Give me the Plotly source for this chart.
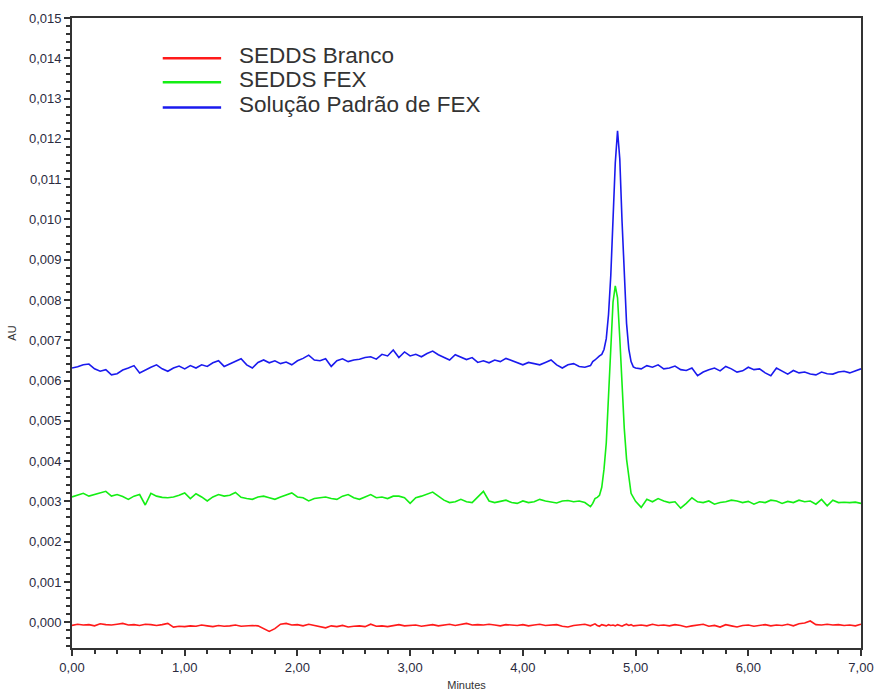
import numpy as np
import plotly.graph_objects as go

# Time grid (minutes): coarse baseline sampling, finer sampling across the peak
time_a = np.round(np.arange(0.00, 4.601, 0.05), 2)   # 93 points
time_b = np.round(np.arange(4.62, 5.001, 0.02), 2)   # 20 points
time_c = np.round(np.arange(5.05, 7.001, 0.05), 2)   # 40 points
minutes = np.concatenate([time_a, time_b, time_c])

# Absorbance values, in units of 0.001 AU
blanco_mau = [
    -0.08, -0.05, -0.07, -0.06, -0.09, -0.04, -0.06, -0.07, -0.05, -0.03,
    -0.07, -0.06, -0.08, -0.05, -0.06, -0.08, -0.06, -0.03, -0.12, -0.10,
    -0.11, -0.09, -0.10, -0.07, -0.09, -0.11, -0.08, -0.10, -0.09, -0.07,
    -0.10, -0.09, -0.08, -0.09, -0.15, -0.23, -0.16, -0.05, -0.03, -0.07,
    -0.06, -0.09, -0.05, -0.08, -0.10, -0.14, -0.09, -0.11, -0.08, -0.12,
    -0.10, -0.09, -0.11, -0.05, -0.10, -0.09, -0.11, -0.08, -0.06, -0.09,
    -0.08, -0.07, -0.10, -0.08, -0.06, -0.09, -0.07, -0.05, -0.08, -0.06,
    -0.03, -0.07, -0.06, -0.07, -0.05, -0.07, -0.09, -0.06, -0.07, -0.08,
    -0.06, -0.09, -0.07, -0.05, -0.08, -0.07, -0.06, -0.10, -0.12, -0.08,
    -0.07, -0.05, -0.09,
    -0.07, -0.04, -0.08, -0.10, -0.06, -0.08, -0.09, -0.06, -0.08, -0.07,
    -0.09, -0.06, -0.08, -0.10, -0.07, -0.05, -0.08, -0.06, -0.09, -0.08,
    -0.07, -0.09, -0.05, -0.08, -0.07, -0.09, -0.06, -0.08, -0.12, -0.09,
    -0.07, -0.05, -0.10, -0.08, -0.12, -0.06, -0.09, -0.12, -0.08, -0.07,
    -0.10, -0.08, -0.06, -0.09, -0.07, -0.08, -0.05, -0.09, -0.04, -0.02,
    0.03, -0.06, -0.07, -0.05, -0.07, -0.06, -0.08, -0.07, -0.09, -0.05,
]

fex_mau = [
    3.11, 3.15, 3.20, 3.13, 3.17, 3.21, 3.25, 3.13, 3.17, 3.12,
    3.05, 3.13, 3.17, 2.91, 3.20, 3.13, 3.10, 3.09, 3.11, 3.15,
    3.21, 3.07, 3.19, 3.11, 3.01, 3.11, 3.17, 3.13, 3.15, 3.22,
    3.10, 3.07, 3.05, 3.11, 3.13, 3.09, 3.05, 3.11, 3.17, 3.21,
    3.11, 3.09, 3.01, 3.07, 3.09, 3.11, 3.07, 3.05, 3.13, 3.17,
    3.09, 3.05, 3.11, 3.17, 3.09, 3.11, 3.07, 3.13, 3.13, 3.09,
    2.95, 3.09, 3.13, 3.19, 3.23, 3.13, 3.03, 2.97, 2.99, 3.05,
    2.99, 2.97, 3.11, 3.25, 3.01, 2.97, 3.00, 3.03, 2.97, 2.95,
    3.01, 2.97, 2.99, 3.05, 3.01, 2.99, 2.96, 3.01, 3.02, 2.99,
    3.01, 2.97, 2.87,
    2.95, 3.07, 3.10, 3.15, 3.35, 3.80, 4.45, 5.65, 6.95, 7.95,
    8.35, 8.05, 7.05, 5.85, 4.80, 4.05, 3.60, 3.20, 3.10, 3.00,
    2.85, 3.05, 2.99, 3.07, 3.01, 2.97, 2.99, 2.83, 2.95, 3.09,
    2.99, 2.97, 3.01, 2.93, 2.97, 2.99, 3.03, 3.01, 2.97, 3.00,
    2.93, 2.99, 2.97, 3.03, 3.01, 2.95, 3.00, 2.97, 3.03, 2.99,
    3.01, 2.93, 3.05, 2.89, 3.03, 2.97, 2.98, 2.97, 2.98, 2.95,
]

padrao_mau = [
    6.31, 6.34, 6.39, 6.41, 6.29, 6.23, 6.27, 6.14, 6.17, 6.26,
    6.31, 6.37, 6.19, 6.27, 6.33, 6.39, 6.29, 6.23, 6.31, 6.36,
    6.29, 6.37, 6.31, 6.39, 6.35, 6.44, 6.49, 6.35, 6.41, 6.47,
    6.54, 6.39, 6.31, 6.45, 6.51, 6.44, 6.49, 6.42, 6.46, 6.39,
    6.49, 6.55, 6.63, 6.51, 6.49, 6.54, 6.35, 6.49, 6.54, 6.47,
    6.51, 6.53, 6.57, 6.59, 6.53, 6.65, 6.61, 6.76, 6.57, 6.71,
    6.61, 6.65, 6.59, 6.67, 6.73, 6.64, 6.57, 6.51, 6.64, 6.59,
    6.52, 6.57, 6.45, 6.49, 6.44, 6.51, 6.47, 6.55, 6.49, 6.44,
    6.39, 6.45, 6.42, 6.39, 6.45, 6.51, 6.39, 6.31, 6.39, 6.42,
    6.35, 6.33, 6.37,
    6.47, 6.51, 6.57, 6.61, 6.65, 6.77, 7.04, 7.64, 8.60, 9.98,
    11.40, 12.20, 11.50, 9.95, 8.45, 7.42, 6.78, 6.47, 6.34, 6.31,
    6.29, 6.37, 6.33, 6.39, 6.29, 6.31, 6.36, 6.27, 6.25, 6.31,
    6.12, 6.21, 6.27, 6.31, 6.24, 6.35, 6.29, 6.21, 6.24, 6.33,
    6.27, 6.29, 6.19, 6.12, 6.31, 6.23, 6.16, 6.25, 6.19, 6.21,
    6.16, 6.14, 6.21, 6.17, 6.16, 6.21, 6.23, 6.19, 6.25, 6.29,
]

series_names = ["SEDDS Branco", "SEDDS FEX", "Solução Padrão de FEX"]
series_values = [blanco_mau, fex_mau, padrao_mau]
series_colors = ["#ff1a1a", "#14ee14", "#1a1aee"]

fig = go.Figure()
for name, vals, col in zip(series_names, series_values, series_colors):
    fig.add_trace(go.Scatter(
        x=minutes, y=np.array(vals) / 1000.0, mode="lines", name=name,
        line=dict(color=col, width=1.6), showlegend=False,
    ))

# Custom legend (line samples + real text), placed inside the plot area
leg_y = [0.936, 0.898, 0.858]
for name, col, yy in zip(series_names, series_colors, leg_y):
    fig.add_shape(type="line", xref="paper", yref="paper",
                  x0=0.115, x1=0.189, y0=yy, y1=yy,
                  line=dict(color=col, width=2.5))
    fig.add_annotation(xref="paper", yref="paper", x=0.209, y=yy + 0.005,
                       text=name, showarrow=False, xanchor="left",
                       yanchor="middle",
                       font=dict(family="Liberation Sans, Arial", size=22.5,
                                 color="#333333"))

axis_font = dict(family="Liberation Sans, Arial", size=13, color="#2b2b40")
fig.update_layout(
    width=893, height=691,
    margin=dict(l=72, r=32, t=18, b=43),
    paper_bgcolor="white", plot_bgcolor="white",
    separators=",.",
    xaxis=dict(
        range=[0, 7], tick0=0, dtick=1, tickformat=".2f", automargin=False,
        ticks="outside", ticklen=6, tickwidth=1.5, tickcolor="#333333",
        minor=dict(dtick=0.2, tick0=0, ticks="outside", ticklen=4,
                   tickwidth=1.5, tickcolor="#333333"),
        showline=True, linecolor="#333333", linewidth=1.8, mirror=True,
        showgrid=False, zeroline=False, tickfont=axis_font,
        title=dict(text="Minutes", font=dict(family="Liberation Sans, Arial",
                   size=11, color="#333333"), standoff=8),
    ),
    yaxis=dict(
        range=[-0.00064, 0.015], tick0=0, dtick=0.001, tickformat=".3f",
        automargin=False,
        ticks="outside", ticklen=6, tickwidth=1.5, tickcolor="#333333",
        minor=dict(dtick=0.0002, tick0=0, ticks="outside", ticklen=4,
                   tickwidth=1.5, tickcolor="#333333"),
        showline=True, linecolor="#333333", linewidth=1.8, mirror=True,
        showgrid=False, zeroline=False, tickfont=axis_font,
        title=dict(text="AU", font=dict(family="Liberation Sans, Arial",
                   size=11, color="#333333"), standoff=10),
    ),
)

fig.write_html("out.html")
